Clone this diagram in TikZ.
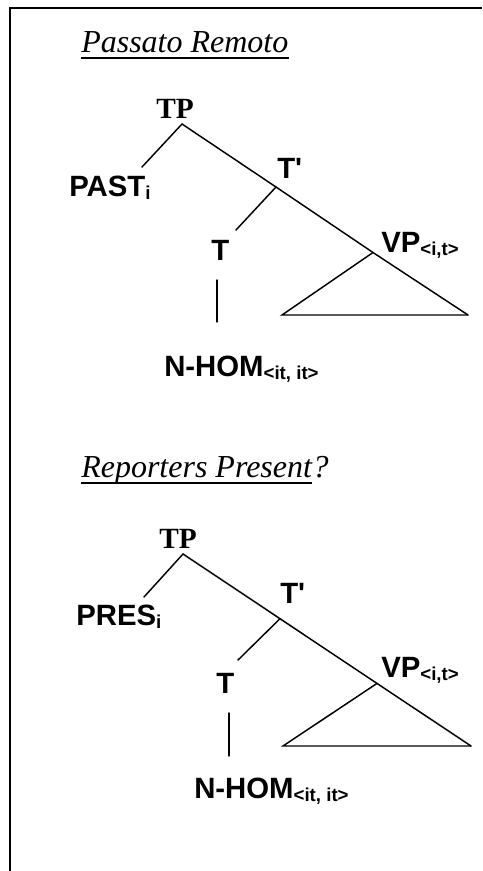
\documentclass[tikz,border=0pt]{standalone}
\usepackage{fontspec}
\setmainfont{Liberation Serif}
\setsansfont{Liberation Sans}[Ligatures=TeXOff]
\newcommand{\sbx}[1]{\raisebox{-2.25pt}{\fontsize{14}{15}\selectfont #1}}
\begin{document}
\begin{tikzpicture}[x=0.75pt,y=-0.75pt,
  lab/.style={font=\fontsize{22}{24}\selectfont\sffamily\bfseries, inner sep=0pt, anchor=base west},
  tpl/.style={font=\fontsize{22}{24}\selectfont\rmfamily\bfseries, inner sep=0pt, anchor=base west},
  ttl/.style={font=\fontsize{24}{28}\selectfont\rmfamily\itshape, inner sep=0pt, anchor=base west},
  br/.style={line width=1.1pt, line cap=round},
  frame/.style={line width=1.5pt},
  uline/.style={line width=1.3pt},
]
\useasboundingbox (0,0) rectangle (482,871);
% frame
\coordinate (fbl) at (10,871);
\coordinate (ftl) at (10,8);
\coordinate (ftr) at (482,8);
\draw[frame] (fbl) -- (ftl) -- (ftr);

% ---------------- Tree 1 ----------------
\node[ttl] (ttl1) at (81,52) {Passato Remoto};
\draw[uline] ([yshift=-4.5pt]ttl1.base west) -- ([yshift=-4.5pt]ttl1.base east);

\node[tpl] (tp1) at (156,118) {TP};
\coordinate (a1) at (182,124);
\coordinate (pl1) at (142,167);
\node[lab] (past) at (69,196) {PAST\sbx{i}};
\coordinate (b1) at (276,187);
\node[lab] (tb1) at (277,178) {T'};
\coordinate (tl1) at (236,230);
\node[lab] (t1) at (211,260) {T};
\coordinate (c1) at (373,252.5);
\node[lab] (vp1) at (381,252) {VP\sbx{<i,t>}};
\coordinate (d1l) at (282,315);
\coordinate (d1r) at (468,315);
\coordinate (v1t) at (217,280);
\coordinate (v1b) at (217,322);
\node[lab] (nh1) at (164,376) {N-HOM\sbx{<it, it>}};

\draw[br] (a1) -- (pl1);
\draw[br] (a1) -- (b1) -- (c1) -- (d1r);
\draw[br] (b1) -- (tl1);
\draw[br] (c1) -- (d1l) -- (d1r);
\draw[br] (v1t) -- (v1b);

% ---------------- Tree 2 ----------------
\node[ttl] (ttl2) at (81,477) {Reporters Present};
\node[ttl, anchor=base west] (ttl2q) at (ttl2.base east) {?};
\draw[uline] ([yshift=-4.5pt]ttl2.base west) -- ([yshift=-4.5pt]ttl2.base east);

\node[tpl] (tp2) at (159,548) {TP};
\coordinate (a2) at (183,554);
\coordinate (pl2) at (144,597);
\node[lab] (pres) at (76,625) {PRES\sbx{i}};
\coordinate (b2) at (280,618.7);
\node[lab] (tb2) at (280,603) {T'};
\coordinate (tl2) at (238,660);
\node[lab] (t2) at (216,693) {T};
\coordinate (c2) at (377,683.4);
\node[lab] (vp2) at (381,677) {VP\sbx{<i,t>}};
\coordinate (d2l) at (283,746);
\coordinate (d2r) at (471,746);
\coordinate (v2t) at (229,713);
\coordinate (v2b) at (229,756);
\node[lab] (nh2) at (194,798) {N-HOM\sbx{<it, it>}};

\draw[br] (a2) -- (pl2);
\draw[br] (a2) -- (b2) -- (c2) -- (d2r);
\draw[br] (b2) -- (tl2);
\draw[br] (c2) -- (d2l) -- (d2r);
\draw[br] (v2t) -- (v2b);
\end{tikzpicture}
\end{document}
